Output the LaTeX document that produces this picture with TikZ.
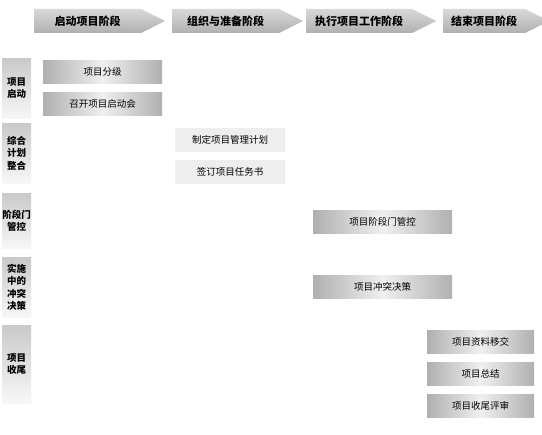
\documentclass[tikz,border=0pt]{standalone}
\usepackage{fontspec}
\setmainfont{Noto Sans CJK SC}
\usetikzlibrary{shapes.symbols}

\begin{document}
\begin{tikzpicture}[
  x=1pt, y=-1pt,
  phase/.style={shape=signal, signal to=east, signal pointer angle=53,
    anchor=west, minimum height=24pt, inner sep=0pt,
    top color=gray!30, bottom color=gray!62,
    font=\fontsize{11}{13}\selectfont\bfseries},
  side/.style={anchor=north west, minimum width=29pt, inner sep=0pt,
    align=center, top color=gray!42, bottom color=gray!6,
    font=\fontsize{9.5}{12.5}\selectfont\bfseries},
  task/.style={anchor=north west, minimum height=23pt, inner sep=0pt,
    left color=gray!62, right color=gray!62, middle color=gray!12,
    font=\fontsize{9.5}{11}\selectfont},
  plain/.style={task, fill=gray!13, left color=gray!13, right color=gray!13,
    middle color=gray!13}
]
\path[use as bounding box, fill=white] (0,0) rectangle (542,435);

% phases
\node[phase, minimum width=131pt] (p1) at (34,21) {启动项目阶段};
\node[phase, minimum width=131pt] (p2) at (172,21) {组织与准备阶段};
\node[phase, minimum width=130pt] (p3) at (306,21) {执行项目工作阶段};
\node[phase, minimum width=106pt] (p4) at (443,21) {结束项目阶段};

% rows
\node[side, minimum height=60pt] (r1) at (2,58) {项目\\启动};
\node[side, minimum height=60pt] (r2) at (2,123) {综合\\计划\\整合};
\node[side, minimum height=55pt] (r3) at (2,193) {阶段门\\管控};
\node[side, minimum height=60pt] (r4) at (2,257) {实施\\中的\\冲突\\决策};
\node[side, minimum height=78pt] (r5) at (2,325) {项目\\收尾};

% tasks
\node[task, minimum width=119pt] (fenji) at (43,60) {项目分级};
\node[task, minimum width=119pt] (qidonghui) at (43,92) {召开项目启动会};
\node[plain, minimum width=110pt] (jihua) at (175,128) {制定项目管理计划};
\node[plain, minimum width=110pt] (renwu) at (175,160) {签订项目任务书};
\node[task, minimum width=139pt] (guankong) at (313,210) {项目阶段门管控};
\node[task, minimum width=139pt] (juece) at (313,275) {项目冲突决策};
\node[task, minimum width=107pt] (yijiao) at (427,330) {项目资料移交};
\node[task, minimum width=107pt] (zongjie) at (427,362) {项目总结};
\node[task, minimum width=107pt] (pingshen) at (427,394) {项目收尾评审};
\end{tikzpicture}
\end{document}
